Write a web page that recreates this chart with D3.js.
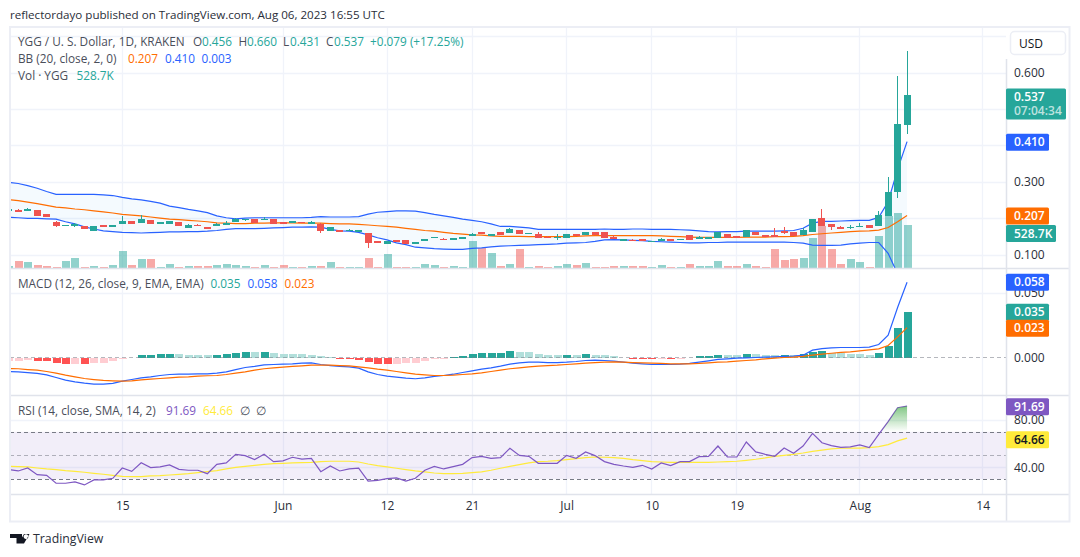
<!DOCTYPE html>
<html><head><meta charset="utf-8">
<script src="https://cdnjs.cloudflare.com/ajax/libs/d3/7.8.5/d3.min.js"></script>
<style>
html,body{margin:0;padding:0;background:#fff;overflow:hidden}
text{font-family:"Open Sans",sans-serif;font-size:12px;fill:#131722}
.leg{fill:#4a4e5a;font-size:11.8px}
</style></head><body><svg id="c" width="1080" height="557"></svg>
<script>
const firstDay = new Date(Date.UTC(2023,4,3)), lastDay = new Date(Date.UTC(2023,7,6));
const opens = [.219,.222,.219,.222,.211,.189,.179,.178,.178,.165,.181,.176,.184,.192,.187,.195,.184,.184,.189,.173,.181,.175,.178,.181,.189,.195,.197,.195,.197,.189,.187,.189,.184,.184,.165,.167,.165,.162,
 .159,.137,.129,.140,.140,.129,.137,.145,.143,.140,.143,.151,.162,.151,.162,.159,.167,.156,.156,.148,.145,.145,.156,.154,.162,.162,.148,.137,.140,.143,.134,.137,.143,.140,.154,.143,.143,.145,
 .156,.151,.148,.162,.154,.154,.165,.162,.154,.162,.200,.184,.176,.173,.176,.181,.178,.206,.272,.456];
const highs = [.225,.225,.229,.222,.211,.192,.181,.187,.178,.178,.181,.181,.206,.192,.209,.195,.189,.192,.189,.184,.184,.175,.187,.192,.200,.197,.197,.203,.197,.189,.192,.189,.192,.187,.176,.167,.170,.167,
 .159,.137,.137,.140,.140,.134,.143,.148,.145,.145,.148,.159,.162,.156,.162,.173,.167,.159,.162,.151,.156,.156,.156,.162,.162,.162,.154,.143,.143,.143,.137,.145,.143,.143,.154,.151,.148,.162,
 .156,.151,.167,.162,.154,.173,.176,.162,.173,.198,.225,.184,.178,.181,.187,.181,.220,.313,.590,.660];
const lows = [.219,.217,.219,.206,.203,.176,.179,.176,.170,.165,.176,.176,.184,.184,.187,.184,.184,.184,.178,.173,.178,.170,.178,.181,.189,.192,.187,.195,.184,.184,.187,.187,.184,.160,.165,.162,.165,.162,
 .118,.132,.129,.134,.129,.129,.137,.145,.140,.140,.143,.151,.156,.151,.154,.159,.156,.156,.145,.145,.140,.145,.151,.154,.154,.145,.143,.137,.137,.137,.134,.137,.137,.140,.140,.143,.143,.145,
 .145,.146,.148,.154,.148,.148,.156,.151,.154,.162,.178,.167,.170,.170,.176,.173,.178,.206,.255,.431];
const closes = [.225,.217,.226,.206,.203,.178,.181,.184,.170,.178,.176,.181,.192,.184,.197,.184,.189,.192,.178,.181,.178,.170,.184,.187,.197,.197,.187,.197,.184,.184,.192,.187,.189,.165,.176,.162,.166,.167,
 .132,.132,.137,.134,.129,.134,.143,.148,.140,.145,.148,.156,.156,.156,.154,.170,.156,.159,.145,.145,.148,.156,.151,.162,.154,.145,.143,.143,.137,.137,.137,.143,.137,.143,.140,.148,.148,.162,
 .145,.146,.167,.154,.148,.148,.159,.151,.167,.198,.178,.176,.170,.176,.178,.173,.209,.272,.459,.537];
const volumes = [25,86,74,37,25,12,86,123,12,25,12,37,209,37,111,111,12,49,12,25,25,25,37,49,37,25,12,37,12,37,12,12,25,25,74,12,12,12,
 123,12,172,12,12,12,49,37,12,25,12,332,246,185,25,49,234,12,25,12,25,49,37,62,12,12,25,25,25,25,12,37,12,12,49,25,25,86,
 25,25,49,25,12,234,98,111,123,369,517,234,49,111,74,12,394,640,677,528.7];
const bbUpper = [.298,.295,.289,.282,.273,.265,.265,.265,.265,.265,.264,.262,.257,.253,.250,.246,.241,.233,.229,.224,.220,.215,.206,.201,.198,.200,.201,.201,.201,.201,.201,.201,.202,.204,.203,.203,.203,.204,
 .211,.216,.218,.220,.220,.219,.215,.210,.206,.202,.197,.194,.190,.184,.177,.177,.175,.173,.169,.169,.169,.169,.169,.169,.169,.170,.169,.169,.170,.170,.169,.169,.169,.168,.167,.165,.163,.162,
 .163,.163,.164,.164,.164,.164,.165,.166,.172,.186,.191,.191,.192,.193,.194,.194,.202,.245,.334,.410];
const bbBasis = [.251,.248,.244,.240,.235,.230,.228,.225,.223,.220,.217,.214,.210,.208,.206,.203,.200,.197,.196,.194,.192,.190,.187,.186,.185,.185,.186,.186,.187,.187,.187,.186,.186,.186,.185,.184,.184,.183,
 .181,.179,.177,.175,.172,.169,.166,.164,.161,.158,.156,.154,.153,.151,.150,.150,.150,.149,.149,.149,.149,.149,.150,.151,.152,.152,.152,.152,.152,.152,.152,.151,.150,.149,.148,.147,.147,.147,
 .147,.147,.148,.148,.148,.149,.149,.150,.152,.155,.157,.159,.161,.163,.164,.165,.167,.174,.190,.207];
const bbLower = [.202,.201,.199,.199,.198,.197,.190,.184,.176,.170,.165,.163,.161,.160,.159,.160,.161,.162,.162,.163,.163,.164,.166,.169,.171,.171,.171,.172,.173,.174,.175,.175,.176,.175,.169,.165,.164,.161,
 .154,.146,.140,.132,.127,.120,.118,.116,.115,.114,.114,.117,.118,.121,.123,.124,.125,.126,.127,.128,.129,.131,.132,.133,.136,.140,.141,.140,.139,.138,.136,.135,.134,.133,.132,.132,.133,.133,
 .134,.134,.134,.134,.134,.134,.134,.133,.131,.126,.125,.125,.126,.129,.131,.133,.133,.103,.047,.003];
const macdHist = [-.0030,-.0028,-.0021,-.0028,-.0029,-.0044,-.0051,-.0050,-.0052,-.0044,-.0043,-.0028,-.0013,-.0005,.0018,.0019,.0026,.0027,.0026,.0018,.0017,.0016,.0018,.0026,.0033,.0041,.0040,.0042,.0033,.0026,.0025,.0024,.0023,.0010,.0003,-.0013,-.0014,-.0021,
 -.0036,-.0051,-.0052,-.0051,-.0044,-.0043,-.0028,-.0013,-.0012,.0005,.0010,.0026,.0033,.0034,.0035,.0049,.0041,.0040,.0026,.0018,.0017,.0018,.0017,.0026,.0018,.0017,.0010,-.0005,-.0013,-.0014,-.0015,-.0014,-.0015,-.0013,-.0005,.0010,.0011,.0018,
 .0017,.0016,.0026,.0025,.0018,.0017,.0018,.0017,.0026,.0041,.0049,.0033,.0032,.0026,.0025,.0018,.0033,.0087,.0226,.0350];
const macdLine = [-.0108,-.0111,-.0116,-.0123,-.0134,-.0154,-.0175,-.0188,-.0198,-.0206,-.0206,-.0200,-.0182,-.0170,-.0157,-.0149,-.0139,-.0131,-.0129,-.0129,-.0126,-.0126,-.0121,-.0111,-.0093,-.0077,-.0069,-.0057,-.0054,-.0051,-.0049,-.0044,-.0041,-.0054,-.0062,-.0069,-.0072,-.0082,
 -.0111,-.0131,-.0144,-.0152,-.0159,-.0164,-.0157,-.0146,-.0139,-.0129,-.0116,-.0103,-.0090,-.0080,-.0067,-.0051,-.0041,-.0036,-.0036,-.0039,-.0039,-.0036,-.0031,-.0023,-.0021,-.0023,-.0028,-.0036,-.0044,-.0049,-.0054,-.0054,-.0054,-.0051,-.0046,-.0036,-.0026,-.0015,
 -.0010,-.0005,-.0003,0,.0003,.0005,.0008,.0010,.0018,.0057,.0069,.0075,.0077,.0077,.0077,.0080,.0100,.0172,.0386,.0580];
const signalLine = [-.0085,-.0087,-.0093,-.0098,-.0108,-.0121,-.0136,-.0149,-.0162,-.0170,-.0177,-.0180,-.0182,-.0180,-.0172,-.0167,-.0162,-.0157,-.0152,-.0149,-.0144,-.0141,-.0139,-.0131,-.0121,-.0111,-.0098,-.0087,-.0080,-.0075,-.0069,-.0064,-.0059,-.0059,-.0059,-.0062,-.0064,-.0072,
 -.0080,-.0090,-.0098,-.0108,-.0118,-.0129,-.0134,-.0139,-.0139,-.0136,-.0131,-.0126,-.0118,-.0108,-.0098,-.0087,-.0080,-.0072,-.0067,-.0062,-.0059,-.0054,-.0049,-.0044,-.0039,-.0036,-.0033,-.0036,-.0039,-.0041,-.0044,-.0046,-.0049,-.0049,-.0049,-.0046,-.0041,-.0036,
 -.0033,-.0028,-.0023,-.0018,-.0010,-.0005,0,.0003,.0008,.0018,.0026,.0033,.0039,.0044,.0051,.0059,.0067,.0093,.0159,.0230];
const rsiLine = [38.0,36.9,39.4,33.8,33.2,26.5,26.5,27.6,25.1,29.3,29.3,30.7,39.4,36.6,43.9,39.7,40.3,42.0,38.3,37.5,37.5,34.6,42.5,43.7,51.0,49.9,46.5,51.0,44.8,45.4,48.5,47.0,47.6,36.3,41.1,36.9,38.6,39.2,
 28.4,29.0,30.4,31.0,28.4,30.7,37.5,40.8,38.6,40.6,42.5,48.2,49.3,47.6,48.2,56.1,50.1,49.3,43.4,43.4,43.4,50.1,47.6,53.0,49.9,44.8,42.5,41.1,40.0,41.7,38.6,43.7,41.4,44.8,44.8,49.0,49.3,58.0,
 48.7,48.7,61.4,53.0,51.0,49.3,56.3,51.8,58.0,68.7,60.8,58.3,56.9,57.2,58.9,56.6,67.9,78.6,90.4,91.69];
const rsiAvg = [40.8,40.6,40.3,39.4,38.6,38.0,37.2,36.6,35.8,34.9,34.1,33.2,32.4,32.1,32.1,32.7,33.0,33.5,34.1,34.6,35.5,36.3,37.2,38.6,40.0,40.8,41.7,42.5,43.1,43.4,43.7,43.9,44.2,44.8,45.1,45.1,45.1,44.5,
 42.8,41.4,40.3,39.2,38.0,36.9,36.1,35.2,34.6,34.6,34.9,35.5,36.1,37.5,39.2,40.8,42.3,43.7,44.8,45.1,45.6,46.5,47.3,48.2,48.7,48.5,48.2,47.6,46.5,45.6,44.8,44.5,44.2,44.2,44.2,44.2,44.2,44.5,
 44.8,45.1,45.9,46.8,47.9,49.3,50.1,51.0,52.1,53.5,54.6,55.5,56.1,56.3,56.3,56.6,57.5,59.2,62.3,64.66];
const priceTicks = [.6,.3,.1], priceGrid = [.1,.2,.3,.4,.5,.6,.7];
const macdTicks = [.05,0], rsiTicks = [80,40], rsiGrid = [80,40];
const timeTicks = ["2023-05-15","2023-06-01","2023-06-12","2023-06-21","2023-07-01","2023-07-10","2023-07-19","2023-08-01","2023-08-14"];
const timeLabels = ["15","Jun","12","21","Jul","10","19","Aug","14"];

const UP="#26a69a",DOWN="#ef5350",BLUE="#2962ff",ORANGE="#ff6d00",PURPLE="#7e57c2",YELLOW="#ffeb3b",GRID="#f0f3fa",EDGE="#e0e3eb";
const dates = d3.utcDay.range(firstDay, d3.utcDay.offset(lastDay,1));
const L=10,R=1006;
const x = d3.scaleUtc().domain([new Date(Date.UTC(2023,5,1)),new Date(Date.UTC(2023,7,14))]).range([283,982.7]);
const X = d => Math.round(x(d)-.5)+.5;
const yP = d3.scaleLinear().domain([.1,.6]).range([254.5,72.5]);
const yV = d3.scaleLinear().domain([0,528.7]).range([268,225]);
const yM = d3.scaleLinear().domain([0,.05]).range([357.5,292.7]);
const yR = d3.scaleLinear().domain([40,80]).range([467.3,420]);
const svg = d3.select("#c");
const defs = svg.append("defs");
[["cp",27,241],["cm",269,126],["cr",396,98]].forEach(([id,y,h])=>defs.append("clipPath").attr("id",id).append("rect").attr("x",L+1).attr("y",y).attr("width",R-L-1).attr("height",h));
defs.append("clipPath").attr("id","c70").append("rect").attr("x",L).attr("y",396).attr("width",R-L).attr("height",yR(70)-396);
const lg = defs.append("linearGradient").attr("id","gr").attr("gradientUnits","userSpaceOnUse").attr("x1",0).attr("x2",0).attr("y1",yR(91.69)).attr("y2",yR(70));
lg.append("stop").attr("offset",0).attr("stop-color","#4caf50").attr("stop-opacity",.7);
lg.append("stop").attr("offset",1).attr("stop-color","#4caf50").attr("stop-opacity",0);

// text above chart
svg.append("text").attr("x",10).attr("y",19).style("font-size","11.6px").style("fill","#2a2e39").text("reflectordayo published on TradingView.com, Aug 06, 2023 16:55 UTC");

// grid
const tickDates = timeTicks.map(s=>new Date(s+"T00:00:00Z"));
svg.append("g").selectAll("line").data(tickDates).join("line").attr("x1",d=>X(d)).attr("x2",d=>X(d)).attr("y1",27).attr("y2",494).attr("stroke",GRID).attr("stroke-width",1.3);
const hgrid=(vals,sc,clip)=>svg.append("g").attr("clip-path",`url(#${clip})`).selectAll("line").data(vals).join("line").attr("x1",L).attr("x2",R).attr("y1",d=>Math.round(sc(d))+.5).attr("y2",d=>Math.round(sc(d))+.5).attr("stroke",GRID).attr("stroke-width",1.3);
hgrid(priceGrid,yP,"cp"); hgrid([.05],yM,"cm"); hgrid(rsiGrid,yR,"cr");

// price pane
const P = svg.append("g").attr("clip-path","url(#cp)");
P.append("g").selectAll("rect").data(dates).join("rect").attr("shape-rendering","crispEdges")
 .attr("x",d=>X(d)-4).attr("width",8).attr("y",(d,i)=>yV(volumes[i])).attr("height",(d,i)=>268-yV(volumes[i]))
 .attr("fill",(d,i)=>closes[i]>=opens[i]?UP:DOWN).attr("fill-opacity",.5);
P.append("path").attr("d",d3.area().x(d=>x(d)).y0((d,i)=>yP(bbLower[i])).y1((d,i)=>yP(bbUpper[i]))(dates)).attr("fill","#2196f3").attr("fill-opacity",.05);
const lineOf=(arr,sc)=>d3.line().x(d=>x(d)).y((d,i)=>sc(arr[i]))(dates);
const stroke=(parent,arr,sc,c,w=1.2)=>parent.append("path").attr("d",lineOf(arr,sc)).attr("fill","none").attr("stroke",c).attr("stroke-width",w);
stroke(P,bbUpper,yP,BLUE); stroke(P,bbLower,yP,BLUE); stroke(P,bbBasis,yP,ORANGE);
P.append("g").selectAll("line").data(dates).join("line").attr("shape-rendering","crispEdges").attr("x1",X).attr("x2",X)
 .attr("y1",(d,i)=>yP(highs[i])).attr("y2",(d,i)=>yP(lows[i])).attr("stroke",(d,i)=>closes[i]>=opens[i]?UP:DOWN);
P.append("g").selectAll("rect").data(dates).join("rect").attr("shape-rendering","crispEdges")
 .attr("x",d=>X(d)-3.5).attr("width",7).attr("y",(d,i)=>yP(Math.max(opens[i],closes[i])))
 .attr("height",(d,i)=>Math.max(1,Math.abs(yP(opens[i])-yP(closes[i])))).attr("fill",(d,i)=>closes[i]>=opens[i]?UP:DOWN);

// macd pane
const M = svg.append("g").attr("clip-path","url(#cm)");
M.append("g").selectAll("rect").data(dates).join("rect").attr("shape-rendering","crispEdges")
 .attr("x",d=>X(d)-4).attr("width",8).attr("y",(d,i)=>Math.min(yM(0),yM(macdHist[i]))).attr("height",(d,i)=>Math.abs(yM(macdHist[i])-yM(0)))
 .attr("fill",(d,i)=>{const v=macdHist[i],p=i?macdHist[i-1]:v; return v>=0?(v>p?UP:"#b2dfdb"):(v<p?"#ff5252":"#ffcdd2");});
M.append("line").attr("x1",L).attr("x2",R).attr("y1",yM(0)).attr("y2",yM(0)).attr("stroke","#787b86").attr("stroke-opacity",.55).attr("stroke-dasharray","4 3");
stroke(M,macdLine,yM,BLUE); stroke(M,signalLine,yM,ORANGE);

// rsi pane
const Q = svg.append("g").attr("clip-path","url(#cr)");
Q.append("rect").attr("x",L).attr("width",R-L).attr("y",yR(70)).attr("height",yR(30)-yR(70)).attr("fill",PURPLE).attr("fill-opacity",.1);
[[70,1],[50,.55],[30,1]].forEach(([v,o])=>Q.append("line").attr("x1",L).attr("x2",R).attr("y1",Math.round(yR(v))+.5).attr("y2",Math.round(yR(v))+.5).attr("stroke","#787b86").attr("stroke-opacity",o).attr("stroke-dasharray","4 3"));
svg.append("g").attr("clip-path","url(#c70)").append("path").attr("d",d3.area().x(d=>x(d)).y0(yR(70)).y1((d,i)=>yR(rsiLine[i]))(dates)).attr("fill","url(#gr)");
stroke(Q,rsiAvg,yR,YELLOW,1.2); stroke(Q,rsiLine,yR,PURPLE,1.2);

// frame
svg.append("g").attr("stroke",EDGE).attr("stroke-width",1.5).selectAll("line").data([[L,268.5,R+64,268.5],[L,395.5,R+64,395.5],[L,494.5,R+64,494.5],[R+.5,59,R+.5,521]]).join("line")
 .attr("x1",d=>d[0]).attr("y1",d=>d[1]).attr("x2",d=>d[2]).attr("y2",d=>d[3]);
svg.append("rect").attr("x",10).attr("y",27).attr("width",1059.5).attr("height",494.5).attr("fill","none").attr("stroke","#eceef5").attr("stroke-width",2);

// axes
const axisStyle=g=>{g.select(".domain").remove();g.selectAll("line").remove();g.selectAll("text").attr("fill",null).style("fill","#2a2e39").style("font-size","12px");};
const axR=(sc,vals,fmt)=>svg.append("g").attr("transform",`translate(1014,0)`).call(d3.axisRight(sc).tickValues(vals).tickSize(0).tickPadding(0).tickFormat(fmt)).call(axisStyle);
axR(yP,priceTicks,d3.format(".3f")); axR(yM,macdTicks,d3.format(".3f")); axR(yR,rsiTicks,d3.format(".2f"));
svg.append("g").attr("transform","translate(0,494)").call(d3.axisBottom(x).tickValues(tickDates).tickSize(0).tickPadding(7).tickFormat((d,i)=>timeLabels[i])).call(axisStyle);

// price tags
const tags=[[yP(.537)-7,31,60,UP],[yP(.41)-8,17,43,BLUE],[yP(.207)-8,17,43,ORANGE],[yV(528.7),17,50,UP],[yM(.058)-8.5,17,43,BLUE],[yM(.035)-8.5,17,43,UP],[yM(.023)-8,17,43,ORANGE],[yR(91.69)-8,17,43,PURPLE],[yR(64.66)-7,17,43,YELLOW]];
const tagText=["0.537","0.410","0.207","528.7K","0.058","0.035","0.023","91.69","64.66"];
svg.append("g").selectAll("rect").data(tags).join("rect").attr("x",1006).attr("y",d=>d[0]).attr("height",d=>d[1]).attr("width",d=>d[2]).attr("rx",1.5).attr("fill",d=>d[3]);
svg.append("g").selectAll("text").data(tags).join("text").attr("x",1014).attr("y",d=>d[0]+12.5).style("fill",(d,i)=>i==8?"#131722":"#fff").style("font-weight",600).text((d,i)=>tagText[i]);
svg.append("text").attr("x",1014).attr("y",tags[0][0]+26.5).style("fill","#fff").style("fill-opacity",.7).style("font-weight",600).text("07:04:34");

// USD button
svg.append("rect").attr("x",1010.5).attr("y",31.5).attr("width",55).attr("height",23).attr("rx",4).attr("fill","#fff").attr("stroke","#eceef5").attr("stroke-width",1.5);
svg.append("text").attr("x",1019).attr("y",48).text("USD");

// legends
const leg=(y,parts)=>parts.forEach(([tx,t,c])=>svg.append("text").attr("x",tx).attr("y",y).attr("class","leg").style("fill",c||null).text(t));
const G="#26a69a",D="#4a4e5a";
leg(46,[[18,"YGG / U. S. Dollar, 1D, KRAKEN"],[193,"O"],[202,"0.456",G],[238.5,"H"],[247,"0.660",G],[283,"L"],[290,"0.431",G],[326,"C"],[334,"0.537",G],[370,"+0.079 (+17.25%)",G]]);
leg(63,[[18,"BB (20, close, 2, 0)"],[128,"0.207",ORANGE],[165,"0.410",BLUE],[201.5,"0.003",BLUE]]);
leg(80,[[18,"Vol · YGG"],[76.5,"528.7K",G]]);
leg(288,[[18,"MACD (12, 26, close, 9, EMA, EMA)"],[210.5,"0.035",G],[247.5,"0.058",BLUE],[284.5,"0.023",ORANGE]]);
leg(415,[[18,"RSI (14, close, SMA, 14, 2)"],[166,"91.69",PURPLE],[203,"64.66",YELLOW],[240,"∅",D],[255.5,"∅",D]]);

// footer
svg.append("path").attr("d","M10 534H22V543.5H16.5V538H10Z M26 534.2a2.4 2.4 0 1 0 .01 0Z M29.5 534L24 543.5H18.5L24 534Z").attr("fill","#131722");
svg.append("text").attr("x",33).attr("y",543).style("font-size","12.3px").style("fill","#2a2e39").text("TradingView");
</script></body></html>
